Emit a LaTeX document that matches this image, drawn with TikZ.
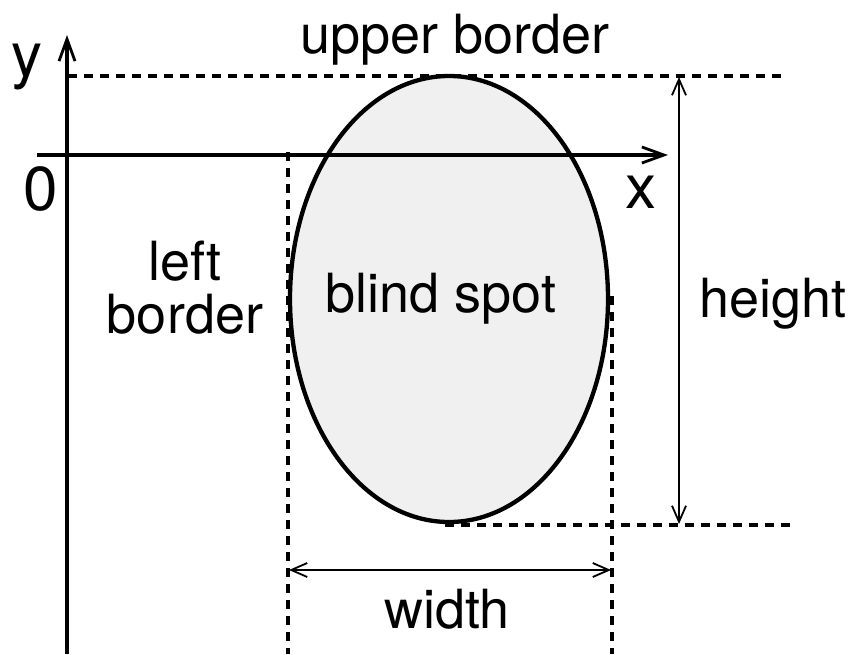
\documentclass[tikz,border=0pt]{standalone}
\usepackage{fontspec}
\setmainfont{TeX Gyre Heros}
\usetikzlibrary{arrows.meta,shapes.geometric}
\begin{document}
\begin{tikzpicture}[x=1pt,y=-1pt,
  lbl/.style={inner sep=0pt,anchor=base,font=\fontsize{54}{53}\selectfont},
  axlbl/.style={inner sep=0pt,anchor=base,font=\fontsize{62}{62}\selectfont},
  axis/.style={line width=4.5pt,-{Straight Barb[length=22pt,width=16pt,line width=2.8pt]}},
  dim/.style={line width=1.8pt,{Straight Barb[length=16pt,width=14pt,line width=1.8pt]}-{Straight Barb[length=16pt,width=14pt,line width=1.8pt]}},
  guide/.style={line width=3.3pt,dash pattern=on 9pt off 7pt},
  spot/.style={line width=4.3pt,fill=black!6}]
\useasboundingbox (0,0) rectangle (853,654);
% ellipse (blind spot)
\node[spot,ellipse,draw,minimum width=318pt,minimum height=446pt,inner sep=0pt] (spot) at (449,299) {};
% coordinates
\coordinate (yb) at (67,654);
\coordinate (yt) at (67,35);
\coordinate (xl) at (37,155);
\coordinate (xr) at (668,155);
\coordinate (ub1) at (68,76);
\coordinate (ub2) at (782,76);
\coordinate (lb1) at (445,525);
\coordinate (lb2) at (790,525);
\coordinate (ld1) at (288,152);
\coordinate (ld2) at (288,654);
\coordinate (rd1) at (612,296);
\coordinate (rd2) at (612,654);
\coordinate (h1) at (679,77);
\coordinate (h2) at (679,524);
\coordinate (w1) at (289,570);
\coordinate (w2) at (611,570);
% guides
\draw[guide] (ub1) -- (ub2);
\draw[guide] (lb1) -- (lb2);
\draw[guide] (ld1) -- (ld2);
\draw[guide] (rd1) -- (rd2);
% axes
\draw[axis] (yb) -- (yt);
\draw[axis] (xl) -- (xr);
% dimensions
\draw[dim] (h1) -- (h2);
\draw[dim] (w1) -- (w2);
% labels
\node[lbl] (ub) at (455,53) {upper border};
\node[lbl,align=center] (lbt) at (185,333) {left\\border};
\node[lbl] (bs) at (441,312) {blind spot};
\node[lbl] (ht) at (773,317) {height};
\node[lbl] (wd) at (447,628) {width};
\node[axlbl] (ylab) at (27,76) {y};
\node[axlbl] (olab) at (41,210) {0};
\node[axlbl] (xlab) at (641,208) {x};
\end{tikzpicture}
\end{document}
